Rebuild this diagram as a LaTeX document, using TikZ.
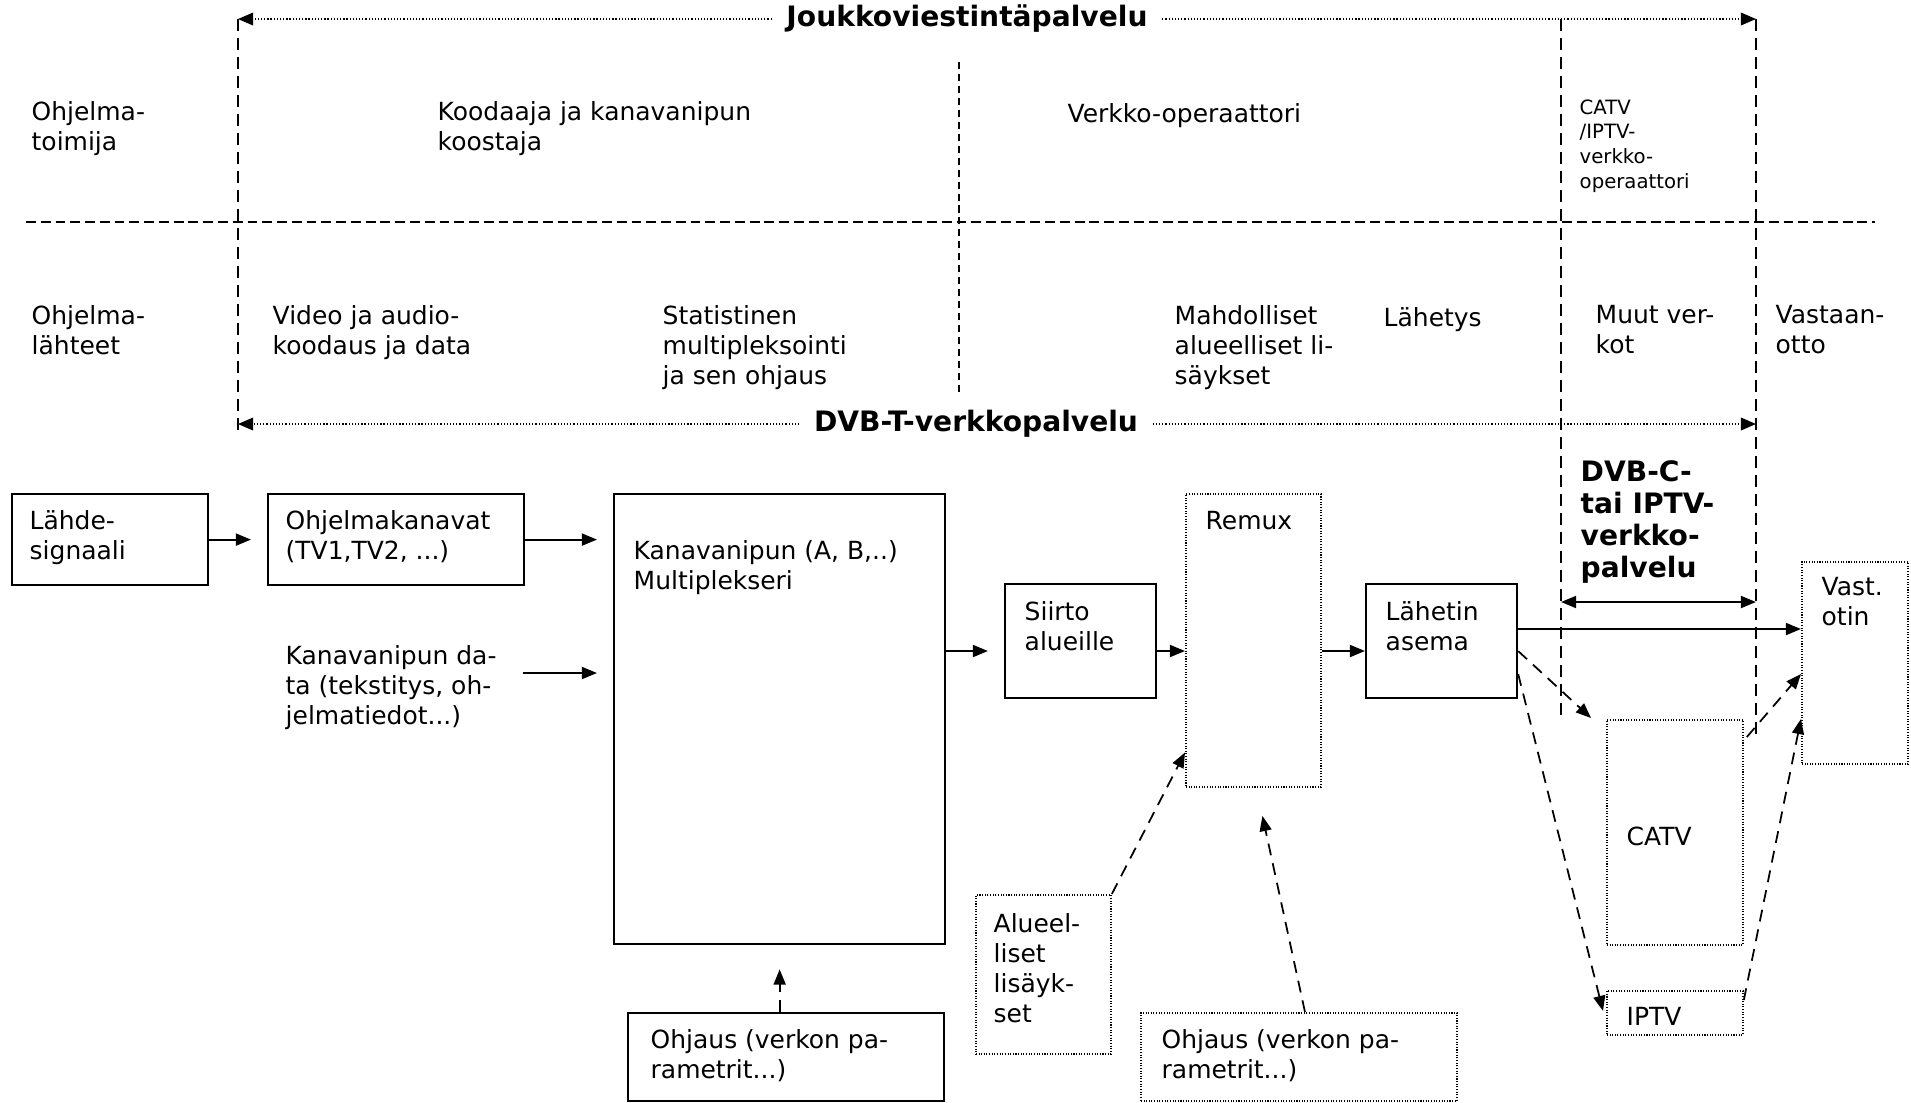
\documentclass[tikz,border=0pt]{standalone}
\usepackage{fontspec}
\setmainfont{DejaVu Sans}
\usepackage{tikz}
\usetikzlibrary{positioning, calc, arrows.meta}

\newcommand{\lblfont}{\fontsize{7.1}{8.54}\selectfont}
\newcommand{\smlfont}{\fontsize{5.6}{7}\selectfont}
\newcommand{\ttlfont}{\fontsize{8}{9.1}\selectfont\bfseries}

\tikzset{
    box/.style={draw, line width=0.6pt, inner sep=0pt, anchor=north west},
    dotbox/.style={draw, line width=0.5pt, dash pattern=on 0.3pt off 0.45pt, inner sep=0pt, anchor=north west},
    txt/.style={inner sep=0pt, anchor=north west, align=left, font=\lblfont, execute at begin node=\strut},
    smltxt/.style={txt, font=\smlfont},
    ttl/.style={inner xsep=0.14cm, inner ysep=0pt, font=\ttlfont},
    arr/.style={line width=0.6pt, -{Triangle[length=4.3pt, width=3.4pt]}},
    dblarr/.style={line width=0.6pt, {Triangle[length=4.3pt, width=3.4pt]}-{Triangle[length=4.3pt, width=3.4pt]}},
    darr/.style={line width=0.5pt, dash pattern=on 3.4pt off 2.3pt, -{Triangle[length=4.3pt, width=3.4pt]}},
    svc/.style={line width=0.4pt, dash pattern=on 0.35pt off 0.55pt, -{Triangle[length=4.3pt, width=3.6pt]}},
    vline/.style={line width=0.5pt, dash pattern=on 3.4pt off 2pt},
    mline/.style={line width=0.5pt, dash pattern=on 2pt off 1.4pt},
    hline/.style={line width=0.5pt, dash pattern=on 2.8pt off 1.4pt}
}

\begin{document}
\begin{tikzpicture}[x=0.01cm, y=-0.01cm]
    \useasboundingbox (0,0) rectangle (1911,1102);

    % Frame
    \coordinate (tl) at (238,19);
    \coordinate (tr) at (1756,19);
    \coordinate (bl) at (238,424);
    \coordinate (br) at (1756,424);
    \draw[vline] (tl) -- (238,433);
    \draw[vline] (tr) -- (1756,736);
    \draw[vline] (1561,19) -- (1561,719);
    \draw[mline] (959,62) -- (959,393);
    \draw[hline] (26,222) -- (1875,222);

    % Services
    \node[ttl] (jvp) at (967,19) {Joukkoviestintäpalvelu};
    \draw[svc] (jvp.west) -- (tl);
    \draw[svc] (jvp.east) -- (tr);
    \node[ttl] (dvbt) at (976,424) {DVB-T-verkkopalvelu};
    \draw[svc] (dvbt.west) -- (bl);
    \draw[svc] (dvbt.east) -- (br);

    % Actors
    \node[txt] (toimija) at (31,101) {Ohjelma-\\toimija};
    \node[txt] (koostaja) at (437,101) {Koodaaja ja kanavanipun\\koostaja};
    \node[txt] (operaattori) at (1067,101) {Verkko-operaattori};
    \node[smltxt] (catvop) at (1579,99) {CATV\\/IPTV-\\verkko-\\operaattori};

    % Functions
    \node[txt] (lahteet) at (31,305) {Ohjelma-\\lähteet};
    \node[txt] (koodaus) at (272,305) {Video ja audio-\\koodaus ja data};
    \node[txt] (statmux) at (662,305) {Statistinen\\multipleksointi\\ja sen ohjaus};
    \node[txt] (lisaykset) at (1174,305) {Mahdolliset\\alueelliset li-\\säykset};
    \node[txt] (lahetys) at (1383,305) {Lähetys};
    \node[txt] (muut) at (1595,305) {Muut ver-\\kot};
    \node[txt] (vastaanotto) at (1775,305) {Vastaan-\\otto};

    % Blocks
    \node[box, minimum width=1.96cm, minimum height=0.91cm] (lahde) at (11,493) {};
    \node[txt] at (29,510) {Lähde-\\signaali};
    \node[box, minimum width=2.56cm, minimum height=0.91cm] (kanavat) at (267,493) {};
    \node[txt] at (285,510) {Ohjelmakanavat\\(TV1,TV2, ...)};
    \node[txt] (data) at (285,645) {Kanavanipun da-\\ta (tekstitys, oh-\\jelmatiedot...)};
    \node[box, minimum width=3.31cm, minimum height=4.50cm] (mux) at (613,493) {};
    \node[txt] at (633,540) {Kanavanipun (A, B,..)\\Multiplekseri};
    \node[box, minimum width=3.16cm, minimum height=0.88cm] (ohjaus1) at (627,1012) {};
    \node[txt] at (650,1029) {Ohjaus (verkon pa-\\rametrit...)};
    \node[box, minimum width=1.51cm, minimum height=1.14cm] (siirto) at (1004,583) {};
    \node[txt] at (1024,601) {Siirto\\alueille};
    \node[dotbox, minimum width=1.35cm, minimum height=2.93cm] (remux) at (1185,493) {};
    \node[txt] at (1205,508) {Remux};
    \node[dotbox, minimum width=1.35cm, minimum height=1.59cm] (alue) at (975,894) {};
    \node[txt] at (993,913) {Alueel-\\liset\\lisäyk-\\set};
    \node[dotbox, minimum width=3.16cm, minimum height=0.88cm] (ohjaus2) at (1140,1012) {};
    \node[txt] at (1161,1029) {Ohjaus (verkon pa-\\rametrit...)};
    \node[box, minimum width=1.51cm, minimum height=1.14cm] (lahetin) at (1365,583) {};
    \node[txt] at (1385,601) {Lähetin\\asema};
    \node[dotbox, minimum width=1.06cm, minimum height=2.02cm] (vast) at (1801,561) {};
    \node[txt] at (1821,577) {Vast.\\otin};
    \node[dotbox, minimum width=1.36cm, minimum height=2.25cm] (catv) at (1606,719) {};
    \node[txt] at (1626,824) {CATV};
    \node[dotbox, minimum width=1.36cm, minimum height=0.44cm] (iptv) at (1606,990) {};
    \node[txt] at (1626,1004) {IPTV};

    % DVB-C service
    \node[txt, font=\ttlfont] (dvbc) at (1580,460) {DVB-C-\\tai IPTV-\\verkko-\\palvelu};
    \coordinate (cl) at (1561,602);
    \coordinate (cr) at (1756,602);
    \draw[dblarr] (cl) -- (cr);

    % Signal flow
    \coordinate (flow) at (0,651);
    \coordinate (air) at (0,629);
    \coordinate (dataout) at (523,673);
    \draw[arr, shorten >=0.16cm] (lahde) -- (kanavat);
    \draw[arr, shorten >=0.16cm] (kanavat.east) -- (kanavat.east -| mux.west);
    \draw[arr, shorten >=0.16cm] (dataout) -- (dataout -| mux.west);
    \draw[arr, shorten >=0.16cm] (mux.east |- flow) -- (siirto.west |- flow);
    \draw[arr] (siirto.east |- flow) -- (remux.west |- flow);
    \draw[arr] (remux.east |- flow) -- (lahetin.west |- flow);
    \draw[arr] (lahetin.east |- air) -- (vast.west |- air);

    % Side inputs and other networks
    \draw[darr, shorten >=0.24cm] (mux.south |- ohjaus1.north) -- (mux.south);
    \draw[darr] (alue.north east) -- ($(remux.west)+(0,112)$);
    \draw[darr] ($(ohjaus2.north)+(6,0)$) -- ($(remux.south)+(9,28)$);
    \draw[darr] ($(lahetin.east)+(0,10)$) -- ($(catv.north west)+(-15,-1)$);
    \draw[darr] ($(lahetin.east)+(0,33)$) -- ($(iptv.west)+(-3,-2)$);
    \draw[darr] ($(catv.north east)+(3,18)$) -- ($(vast.west)+(0,11)$);
    \draw[darr] ($(iptv.north east)+(0,10)$) -- ($(vast.west)+(0,56)$);
\end{tikzpicture}
\end{document}
